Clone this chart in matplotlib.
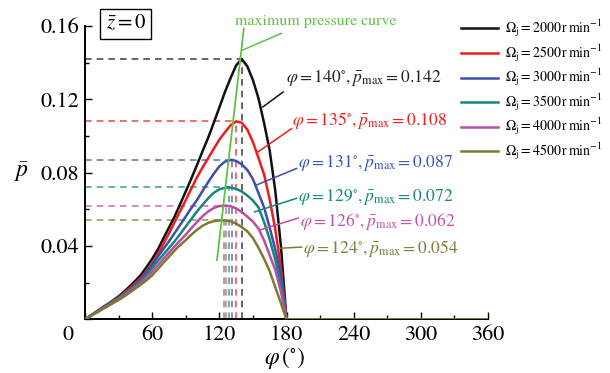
import numpy as np
import matplotlib
matplotlib.use("Agg")
import matplotlib.pyplot as plt

plt.rcParams['font.family'] = 'STIXGeneral'
plt.rcParams['mathtext.fontset'] = 'stix'

# phi every 5 degrees from 0 to 180, zero after that
phi = list(range(0, 185, 5)) + [360]
p_2000 = [0, 0.002, 0.0041, 0.0062, 0.0082, 0.0103, 0.0125, 0.0151, 0.018, 0.021,
          0.0243, 0.0285, 0.033, 0.038, 0.0441, 0.050, 0.056, 0.0628, 0.0698, 0.0768,
          0.0841, 0.0917, 0.099, 0.1072, 0.1155, 0.124, 0.1315, 0.1385, 0.142, 0.138,
          0.1305, 0.1205, 0.107, 0.092, 0.070, 0.040, 0, 0]
p_2500 = [0, 0.002, 0.004, 0.006, 0.008, 0.0099, 0.012, 0.0144, 0.017, 0.0198,
          0.0228, 0.0263, 0.0305, 0.0355, 0.041, 0.0468, 0.053, 0.059, 0.065, 0.0713,
          0.0774, 0.0828, 0.0879, 0.093, 0.098, 0.102, 0.1058, 0.108, 0.1072, 0.1035,
          0.0967, 0.088, 0.079, 0.0653, 0.049, 0.028, 0, 0]
p_3000 = [0, 0.0019, 0.0039, 0.0058, 0.0078, 0.0097, 0.0117, 0.0139, 0.0163, 0.0189,
          0.0217, 0.0255, 0.0297, 0.0341, 0.0383, 0.0425, 0.047, 0.0515, 0.0561, 0.0607,
          0.065, 0.070, 0.0748, 0.0794, 0.0834, 0.086, 0.0869, 0.0864, 0.0845, 0.0815,
          0.0765, 0.0688, 0.061, 0.050, 0.038, 0.024, 0, 0]
p_3500 = [0, 0.0019, 0.0038, 0.0057, 0.0076, 0.0095, 0.0114, 0.0136, 0.0159, 0.0184,
          0.021, 0.0243, 0.028, 0.0318, 0.0353, 0.0389, 0.0425, 0.0465, 0.0506, 0.0547,
          0.0588, 0.0625, 0.066, 0.069, 0.0709, 0.0717, 0.0719, 0.0712, 0.0697, 0.0675,
          0.0648, 0.061, 0.053, 0.0436, 0.0323, 0.019, 0, 0]
p_4000 = [0, 0.0018, 0.0037, 0.0055, 0.0073, 0.0092, 0.011, 0.0131, 0.0153, 0.0176,
          0.020, 0.0225, 0.026, 0.0295, 0.0329, 0.0363, 0.0397, 0.043, 0.0462, 0.0497,
          0.053, 0.0562, 0.0588, 0.0607, 0.0618, 0.0619, 0.0617, 0.0605, 0.0585, 0.056,
          0.0533, 0.0495, 0.043, 0.0349, 0.0269, 0.015, 0, 0]
p_4500 = [0, 0.0018, 0.0035, 0.0053, 0.007, 0.0088, 0.0105, 0.0125, 0.0146, 0.0168,
          0.019, 0.0213, 0.024, 0.0274, 0.0308, 0.0341, 0.0375, 0.0405, 0.0432, 0.0462,
          0.0488, 0.051, 0.0526, 0.0535, 0.0539, 0.054, 0.0535, 0.0522, 0.0503, 0.048,
          0.0443, 0.039, 0.033, 0.0262, 0.0175, 0.0088, 0, 0]

speeds = [2000, 2500, 3000, 3500, 4000, 4500]
phi_max = [140, 135, 131, 129, 126, 124]
p_max = [0.142, 0.108, 0.087, 0.072, 0.062, 0.054]

# maximum pressure curve end points
mpc_phi = [117.9, 141.9]
mpc_p = [0.0323, 0.1586]

colors = ['#111111', '#f01c1c', '#3c4fae', '#13877c', '#c04aa8', '#7d7a32']
text_colors = ['#222222', '#f01c1c', '#3c55b2', '#17877d', '#c24fae', '#7f7d3a']
green = '#62c046'

curves = [p_2000, p_2500, p_3000, p_3500, p_4000, p_4500]

fig = plt.figure(figsize=(6.1, 3.73), dpi=100)
ax = fig.add_axes([85 / 610, 1 - 319.3 / 373, 403 / 610, (319.3 - 26) / 373])

for i, p in enumerate(curves):
    # put the peak into the grid
    x = list(phi)
    y = list(p)
    k = int(np.searchsorted(x, phi_max[i]))
    if x[k] != phi_max[i]:
        x.insert(k, phi_max[i])
        y.insert(k, p_max[i])
    ax.plot(x, y, color=colors[i], lw=1.8, zorder=3, solid_joinstyle='round',
            label=r"$\Omega_{\rm j} = %d\,{\rm r\,min^{-1}}$" % speeds[i])

for i in range(len(speeds)):
    ax.plot([0, phi_max[i]], [p_max[i], p_max[i]], ls=(0, (4, 3)), lw=1.2,
            color=colors[i], alpha=0.75, zorder=2)
    ax.plot([phi_max[i], phi_max[i]], [0, p_max[i]], ls=(0, (4, 3)), lw=1.2,
            color=colors[i], alpha=0.75, zorder=2)

ax.plot(mpc_phi, mpc_p, color=green, lw=1.3, zorder=4)
ax.plot([141, 175.5], [0.1469, 0.156], color=green, lw=1.1, clip_on=False)
ax.text(134, 0.1628, "maximum pressure curve", color=green, fontsize=11.5,
        ha='left', va='center', clip_on=False)

# labels with pointer lines
ann_text = [(180, 0.1315), (184.5, 0.1086), (190.5, 0.085), (190.5, 0.0668),
            (192, 0.0532), (195, 0.0387)]
ann_line = [((159, 0.1159), (177, 0.124)), ((154.5, 0.0913), (184.5, 0.104)),
            ((153, 0.0732), (189, 0.0823)), ((151.5, 0.0586), (189, 0.066)),
            ((156, 0.0487), (190.5, 0.0552)), ((172.5, 0.0387), (193.5, 0.0394))]
for i in range(len(speeds)):
    (x0, y0), (x1, y1) = ann_line[i]
    ax.plot([x0, x1], [y0, y1], color=colors[i], lw=1.1, zorder=5)
    ax.text(ann_text[i][0], ann_text[i][1],
            r"$\varphi = %d^{\circ}, \bar{p}_{\rm max} = %.3f$" % (phi_max[i], p_max[i]),
            color=text_colors[i], fontsize=12.6, ha='left', va='center')

ax.text(36.5, 0.1612, r"$\bar{z} = 0$", fontsize=15, ha='center', va='center',
        bbox=dict(boxstyle='square,pad=0.25', fc='white', ec='black', lw=1.0),
        clip_on=False)

ax.set_xlim(0, 360)
ax.set_ylim(0, 0.16)
ax.set_xticks([0, 60, 120, 180, 240, 300, 360])
ax.set_xticklabels(['', '60', '120', '180', '240', '300', '360'])
ax.set_xticks(np.arange(30, 360, 60), minor=True)
ax.set_yticks([0, 0.04, 0.08, 0.12, 0.16])
ax.set_yticklabels(['', '0.04', '0.08', '0.12', '0.16'])
ax.set_yticks([0.02, 0.06, 0.10, 0.14], minor=True)
ax.tick_params(which='both', direction='in', labelsize=16, width=1.0)
ax.tick_params(which='major', length=5, pad=4)
ax.tick_params(which='minor', length=3)
ax.annotate('0', xy=(0, 0), xycoords='data', xytext=(-12, -4),
            textcoords='offset points', ha='center', va='top', fontsize=16)

for s in ['top', 'right']:
    ax.spines[s].set_visible(False)
for s in ['left', 'bottom']:
    ax.spines[s].set_linewidth(1.4)

fig.text(22 / 610, 1 - 172 / 373, r"$\bar{p}$", fontsize=17, ha='center', va='center')
fig.text(285 / 610, 1 - 358 / 373, r"$\varphi\,(^{\circ})$", fontsize=17,
         ha='center', va='center')

ax.legend(loc='upper left', bbox_to_anchor=(454 / 610, 1 - 11 / 373),
          bbox_transform=fig.transFigure, frameon=False, fontsize=10,
          handlelength=2.7, handletextpad=0.5, labelspacing=0.26, borderpad=0)

fig.savefig("out.png", dpi=100)
